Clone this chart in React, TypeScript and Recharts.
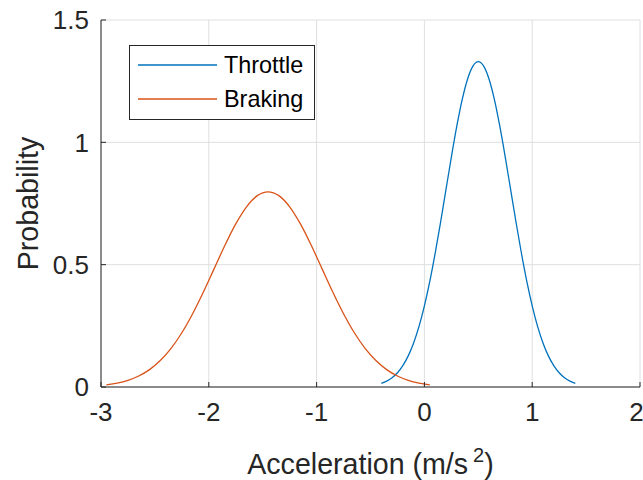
import React from 'react';
import { LineChart, Line, XAxis, YAxis, CartesianGrid, Legend, Label } from 'recharts';

// Throttle curve
const throttleX = [
  -0.4, -0.35, -0.3, -0.25, -0.2, -0.15, -0.1, -0.05, 0, 0.05, 0.1, 0.15, 0.2, 0.25, 0.3, 0.35, 0.4, 0.45,
  0.5, 0.55, 0.6, 0.65, 0.7, 0.75, 0.8, 0.85, 0.9, 0.95, 1, 1.05, 1.1, 1.15, 1.2, 1.25, 1.3, 1.35, 1.4,
];
const throttleY = [
  0.0148, 0.024, 0.038, 0.0584, 0.0874, 0.1272, 0.18, 0.2477, 0.3317, 0.4318, 0.5467, 0.6733, 0.8066, 0.9397,
  1.0648, 1.1736, 1.258, 1.3114, 1.3298, 1.3114, 1.258, 1.1736, 1.0648, 0.9397, 0.8066, 0.6733, 0.5467, 0.4318,
  0.3317, 0.2477, 0.18, 0.1272, 0.0874, 0.0584, 0.038, 0.024, 0.0148,
];

// Braking curve
const brakingX = [
  -2.95, -2.85, -2.75, -2.65, -2.55, -2.45, -2.35, -2.25, -2.15, -2.05, -1.95, -1.85, -1.75, -1.65, -1.55, -1.45,
  -1.35, -1.25, -1.15, -1.05, -0.95, -0.85, -0.75, -0.65, -0.55, -0.45, -0.35, -0.25, -0.15, -0.05, 0.05,
];
const brakingY = [
  0.0089, 0.0158, 0.0272, 0.0448, 0.0709, 0.108, 0.1579, 0.2218, 0.2995, 0.3884, 0.4839, 0.5794, 0.6665, 0.7365,
  0.7821, 0.7979, 0.7821, 0.7365, 0.6665, 0.5794, 0.4839, 0.3884, 0.2995, 0.2218, 0.1579, 0.108, 0.0709, 0.0448,
  0.0272, 0.0158, 0.0089,
];

const seriesNames = ['Throttle', 'Braking'];
const xTicks = [-3, -2, -1, 0, 1, 2];
const yTicks = [0, 0.5, 1, 1.5];

const throttleData = throttleX.map((x, i) => ({ x, y: throttleY[i] }));
const brakingData = brakingX.map((x, i) => ({ x, y: brakingY[i] }));

const AXIS = '#262626';
const FONT = '"Liberation Sans", Arial, Helvetica, sans-serif';

const renderLegend = (props: any) => {
  const items = [...(props.payload || [])].sort(
    (a: any, b: any) => seriesNames.indexOf(a.value) - seriesNames.indexOf(b.value)
  );
  return (
    <svg width={186} height={75} style={{ display: 'block' }}>
      <rect x={0.5} y={0.5} width={185} height={74} fill="#fff" stroke={AXIS} strokeWidth={1} />
      {items.map((it: any, i: number) => (
        <g key={it.value}>
          <line x1={9} x2={88} y1={20 + 34 * i} y2={20 + 34 * i} stroke={it.color} strokeWidth={1.3} />
          <text x={95} y={20 + 34 * i} dy="0.35em" fontSize={23.4} fill="#000" fontFamily={FONT}>
            {it.value}
          </text>
        </g>
      ))}
    </svg>
  );
};

const renderXLabel = (props: any) => {
  const vb = props.viewBox;
  const cx = vb.x + vb.width / 2;
  return (
    <text x={cx} y={474} textAnchor="middle" fontSize={28.6} fill={AXIS} fontFamily={FONT}>
      <tspan>Acceleration (m/s</tspan>
      <tspan dx={5} dy={-12} fontSize={20}>2</tspan>
      <tspan dy={12}>)</tspan>
    </text>
  );
};

const renderYLabel = (props: any) => {
  const vb = props.viewBox;
  const cy = vb.y + vb.height / 2;
  return (
    <text
      x={38}
      y={cy}
      textAnchor="middle"
      fontSize={28.6}
      fill={AXIS}
      fontFamily={FONT}
      transform={`rotate(-90, 38, ${cy})`}
    >
      Probability
    </text>
  );
};

export default function App() {
  return (
    <div style={{ position: 'absolute', left: 0, top: 0, width: 643, height: 480, background: '#fff', fontFamily: FONT }}>
      <LineChart width={643} height={480} margin={{ top: 20, right: 3, left: 0, bottom: 0 }}>
        <CartesianGrid stroke="#dfdfdf" strokeWidth={1} />
        <XAxis
          type="number"
          dataKey="x"
          domain={[-3, 2]}
          ticks={xTicks}
          allowDataOverflow
          height={93}
          stroke={AXIS}
          tickSize={-5}
          tickMargin={21}
          tick={{ fontSize: 26, fill: AXIS, fontFamily: FONT }}
        >
          <Label content={renderXLabel} />
        </XAxis>
        <XAxis
          xAxisId="top"
          orientation="top"
          type="number"
          domain={[-3, 2]}
          ticks={xTicks}
          allowDataOverflow
          height={0}
          stroke={AXIS}
          tickSize={-5}
          tick={false}
        />
        <YAxis
          type="number"
          domain={[0, 1.5]}
          ticks={yTicks}
          allowDataOverflow
          width={101}
          stroke={AXIS}
          tickSize={-5}
          tickMargin={17}
          tick={{ fontSize: 26, fill: AXIS, fontFamily: FONT }}
        >
          <Label content={renderYLabel} />
        </YAxis>
        <YAxis
          yAxisId="right"
          orientation="right"
          type="number"
          domain={[0, 1.5]}
          ticks={yTicks}
          allowDataOverflow
          width={0}
          stroke={AXIS}
          tickSize={-5}
          tick={false}
        />
        <Legend
          layout="vertical"
          align="center"
          verticalAlign="middle"
          content={renderLegend}
          wrapperStyle={{ left: 129, top: 45, width: 186, height: 75 }}
        />
        <Line
          data={throttleData}
          dataKey="y"
          name="Throttle"
          type="monotone"
          stroke="#0072BD"
          strokeWidth={1.3}
          dot={false}
          isAnimationActive={false}
        />
        <Line
          data={brakingData}
          dataKey="y"
          name="Braking"
          type="monotone"
          stroke="#D95319"
          strokeWidth={1.3}
          dot={false}
          isAnimationActive={false}
        />
      </LineChart>
    </div>
  );
}
